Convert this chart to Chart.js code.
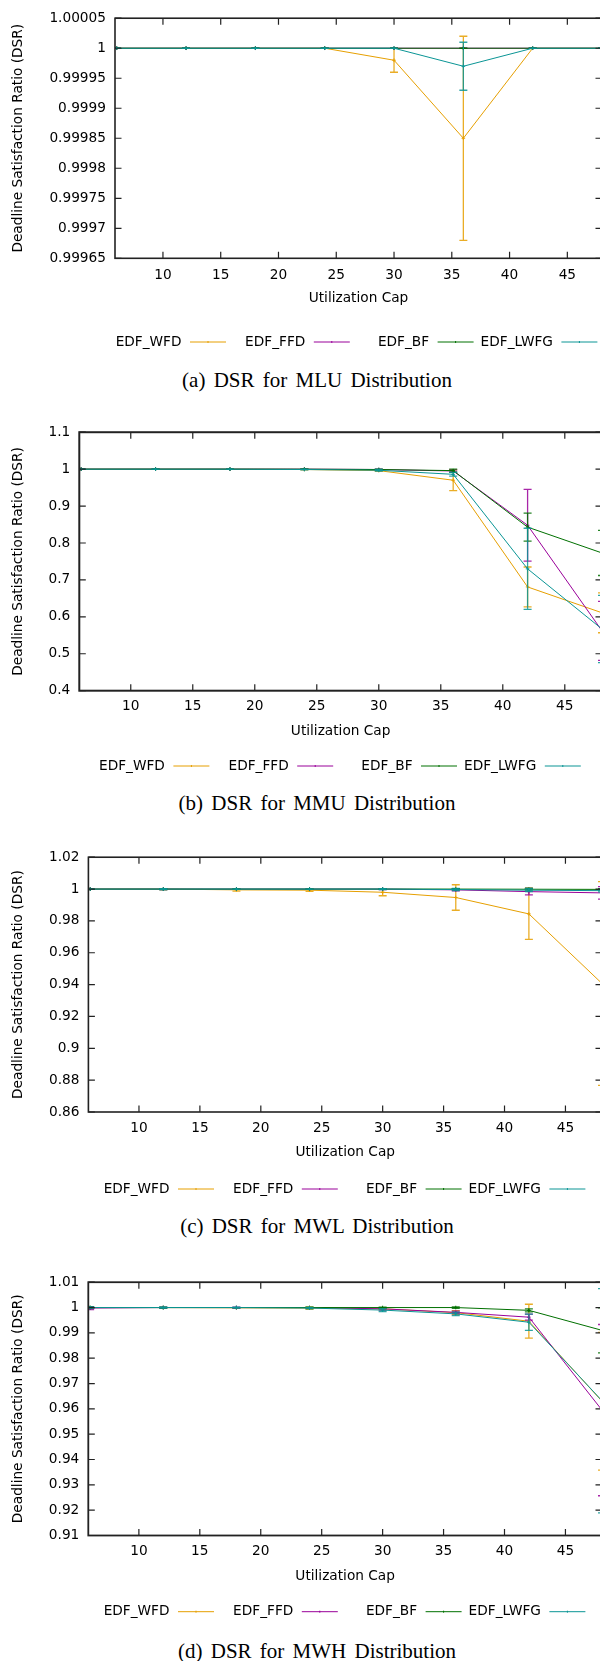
<!DOCTYPE html>
<html>
<head>
<meta charset="utf-8">
<title>DSR plots</title>
<script src="https://cdn.jsdelivr.net/npm/chart.js@4.4.1/dist/chart.umd.min.js"></script>
<style>
html, body { margin: 0; padding: 0; width: 600px; height: 1661px; overflow: hidden; background: #fff; }
.panel { position: absolute; left: 0; }
.caption {
    position: absolute; left: 117px; width: 400px; height: 24px;
    text-align: center; font-family: "Liberation Serif", serif; font-size: 21px;
    line-height: 24px; word-spacing: 3px; color: #000; white-space: nowrap;
}
</style>
</head>
<body>
<canvas id="chartA" class="panel"></canvas>
<canvas id="chartB" class="panel"></canvas>
<canvas id="chartC" class="panel"></canvas>
<canvas id="chartD" class="panel"></canvas>
<div class="caption" id="capA">(a) DSR for MLU Distribution</div>
<div class="caption" id="capB">(b) DSR for MMU Distribution</div>
<div class="caption" id="capC">(c) DSR for MWL Distribution</div>
<div class="caption" id="capD">(d) DSR for MWH Distribution</div>
<script>
// x values (utilization cap) shared by all plots
let caps = [6, 12, 18, 24, 30, 36, 42, 48];
let xTicks = [10, 15, 20, 25, 30, 35, 40, 45];
let seriesNames = ["EDF_WFD", "EDF_FFD", "EDF_BF", "EDF_LWFG"];
let seriesColors = ["#e69f00", "#990099", "#007000", "#0a9595"];

// (a) MLU distribution
let yTicksA = [0.99965, 0.9997, 0.99975, 0.9998, 0.99985, 0.9999, 0.99995, 1, 1.00005];
let wfdA = [1, 1, 1, 1, 0.99998, 0.99985, 1, 1];
let wfdErrA = [0, 0, 0, 0, 0.00002, 0.00017, 0, 0];
let ffdA = [1, 1, 1, 1, 1, 1, 1, 1];
let ffdErrA = [0, 0, 0, 0, 0, 0, 0, 0];
let bfA = [1, 1, 1, 1, 1, 1, 1, 1];
let bfErrA = [0, 0, 0, 0, 0, 0, 0, 0];
let lwfgA = [1, 1, 1, 1, 1, 0.99997, 1, 1];
let lwfgErrA = [0, 0, 0, 0, 0, 0.00004, 0, 0];

// (b) MMU distribution
let yTicksB = [0.4, 0.5, 0.6, 0.7, 0.8, 0.9, 1, 1.1];
let wfdB = [1, 1, 1, 0.999, 0.996, 0.970, 0.681, 0.611];
let wfdErrB = [0, 0, 0, 0.001, 0.002, 0.028, 0.054, 0.054];
let ffdB = [1, 1, 1, 1, 0.999, 0.995, 0.848, 0.562];
let ffdErrB = [0, 0, 0, 0, 0.001, 0.003, 0.097, 0.080];
let bfB = [1, 1, 1, 1, 0.999, 0.996, 0.843, 0.773];
let bfErrB = [0, 0, 0, 0, 0.001, 0.004, 0.038, 0.061];
let lwfgB = [1, 1, 1, 0.999, 0.997, 0.986, 0.730, 0.567];
let lwfgErrB = [0, 0, 0, 0.001, 0.002, 0.005, 0.110, 0.091];

// (c) MWL distribution
let yTicksC = [0.86, 0.88, 0.9, 0.92, 0.94, 0.96, 0.98, 1, 1.02];
let wfdC = [1, 1, 0.9995, 0.9993, 0.998, 0.9947, 0.9844, 0.9407];
let wfdErrC = [0, 0.0003, 0.0008, 0.0008, 0.0022, 0.008, 0.016, 0.064];
let ffdC = [1, 1, 1, 1, 1, 0.9995, 0.9984, 0.9976];
let ffdErrC = [0, 0.0003, 0, 0, 0.0003, 0.0006, 0.002, 0.0039];
let bfC = [1, 1, 1, 1, 1, 1, 0.9999, 0.9998];
let bfErrC = [0, 0.0003, 0, 0, 0.0002, 0.0003, 0.0006, 0.0005];
let lwfgC = [1, 1, 1, 1, 1, 0.9997, 0.9993, 0.999];
let lwfgErrC = [0, 0.0003, 0, 0, 0.0003, 0.0007, 0.0009, 0.0008];

// (d) MWH distribution
let yTicksD = [0.91, 0.92, 0.93, 0.94, 0.95, 0.96, 0.97, 0.98, 0.99, 1, 1.01];
let wfdD = [1, 1, 0.9999, 0.9998, 0.9995, 0.998, 0.9946, 0.963];
let wfdErrD = [0.0002, 0, 0.0001, 0.0005, 0.0003, 0.0008, 0.0067, 0.0272];
let ffdD = [0.9998, 1, 1, 1, 0.9995, 0.9981, 0.9962, 0.9595];
let ffdErrD = [0.0006, 0.0002, 0.0002, 0, 0.0005, 0.0005, 0.0012, 0.0338];
let bfD = [1, 1, 1, 1, 1, 1, 0.9989, 0.991];
let bfErrD = [0.0003, 0.0002, 0, 0.0002, 0.0002, 0.0003, 0.0006, 0.0089];
let lwfgD = [1, 1, 1, 0.9998, 0.999, 0.9975, 0.9942, 0.9632];
let lwfgErrD = [0.0003, 0.0002, 0.0002, 0.0003, 0.0006, 0.0007, 0.0032, 0.0443];

let FONT = "DejaVu Sans";
let FONT_SIZE = 13.7;
let CANVAS_W = 620;   // wider than the page: the right edge of the plots is cut off
let PLOT_RIGHT = 602;

/* error bars drawn right after each line, using the chart's y scale */
let errorBars = {
    id: "errorBars",
    afterDatasetDraw(chart, args) {
        let ds = chart.data.datasets[args.index];
        let meta = args.meta;
        let yScale = chart.scales.y;
        let area = chart.chartArea;
        let ctx = chart.ctx;
        ctx.save();
        ctx.beginPath();
        ctx.rect(area.left, area.top, area.right - area.left, area.bottom - area.top);
        ctx.clip();
        ctx.strokeStyle = ds.borderColor;
        ctx.globalAlpha = 0.85;
        ctx.lineWidth = 1.3;
        for (let i = 0; i < ds.data.length; i++) {
            let e = ds.errors[i];
            let x = meta.data[i].x;
            let yHi = yScale.getPixelForValue(ds.data[i].y + e);
            let yLo = yScale.getPixelForValue(ds.data[i].y - e);
            ctx.beginPath();
            ctx.moveTo(x, yHi);
            ctx.lineTo(x, yLo);
            ctx.moveTo(x - 4, yHi);
            ctx.lineTo(x + 4, yHi);
            ctx.moveTo(x - 4, yLo);
            ctx.lineTo(x + 4, yLo);
            ctx.stroke();
        }
        ctx.restore();
    }
};

/* gnuplot style box with inward ticks on all four sides */
let gnuFrame = {
    id: "gnuFrame",
    afterDatasetsDraw(chart, args, opts) {
        let ctx = chart.ctx;
        let a = chart.chartArea;
        let xs = chart.scales.x;
        let ys = chart.scales.y;
        let tl = 6.5;
        ctx.save();
        ctx.strokeStyle = "#222";
        ctx.lineWidth = 1.2;
        ctx.beginPath();
        xs.ticks.forEach(t => {
            let px = xs.getPixelForValue(t.value);
            ctx.moveTo(px, a.bottom);
            ctx.lineTo(px, a.bottom - tl);
            ctx.moveTo(px, a.top);
            ctx.lineTo(px, a.top + tl);
        });
        ys.ticks.forEach(t => {
            let py = ys.getPixelForValue(t.value);
            ctx.moveTo(a.left, py);
            ctx.lineTo(a.left + tl, py);
            ctx.moveTo(a.right, py);
            ctx.lineTo(a.right - tl, py);
        });
        ctx.stroke();
        ctx.lineWidth = opts.border;
        ctx.strokeRect(a.left, a.top, a.right - a.left, a.bottom - a.top);
        ctx.restore();
    }
};

/* legend below the plot: label first, then the line sample */
let gnuLegend = {
    id: "gnuLegend",
    afterDraw(chart, args, opts) {
        let ctx = chart.ctx;
        ctx.save();
        ctx.font = FONT_SIZE + "px '" + FONT + "'";
        ctx.textAlign = "right";
        ctx.textBaseline = "middle";
        chart.data.datasets.forEach((ds, i) => {
            let x = opts.x0 + i * 123.8;
            ctx.fillStyle = "#000";
            ctx.fillText(ds.label, x - 8.5, opts.y);
            ctx.strokeStyle = ds.borderColor;
            ctx.lineWidth = 1;
            ctx.beginPath();
            ctx.moveTo(x, opts.y);
            ctx.lineTo(x + 36, opts.y);
            ctx.moveTo(x + 18, opts.y - 1);
            ctx.lineTo(x + 18, opts.y + 1);
            ctx.stroke();
        });
        ctx.restore();
    }
};

function makePanel(canvasId, captionId, p) {
    let canvasTop = Math.round(p.plotTop - 14);
    let canvasHeight = Math.round(p.legendY + 14) - canvasTop;
    let canvas = document.getElementById(canvasId);
    canvas.width = CANVAS_W;
    canvas.height = canvasHeight;
    canvas.style.top = canvasTop + "px";
    canvas.style.width = CANVAS_W + "px";
    canvas.style.height = canvasHeight + "px";

    let padTop = p.plotTop - canvasTop;
    let padBottom = canvasHeight - (p.plotBottom - canvasTop) - 60;

    let datasets = [];
    for (let s = 0; s < 4; s++) {
        datasets.push({
            label: seriesNames[s],
            data: caps.map((c, i) => ({x: c, y: p.values[s][i]})),
            errors: p.errors[s],
            borderColor: seriesColors[s],
            backgroundColor: seriesColors[s],
            borderWidth: 1,
            pointStyle: "cross",
            pointRadius: 1.8,
            pointBorderWidth: 1,
            tension: 0,
            order: 4 - s
        });
    }

    let tickFont = {family: FONT, size: FONT_SIZE};

    new Chart(canvas, {
        type: "line",
        data: {datasets: datasets},
        options: {
            responsive: false,
            animation: false,
            devicePixelRatio: 1,
            layout: {padding: {left: 0, right: CANVAS_W - PLOT_RIGHT, top: padTop, bottom: padBottom}},
            plugins: {
                legend: {display: false},
                tooltip: {enabled: false},
                gnuLegend: {x0: p.legendX0, y: p.legendY - canvasTop},
                gnuFrame: {border: p.border}
            },
            scales: {
                x: {
                    type: "linear",
                    min: 5.85,
                    max: 48,
                    grid: {display: false, drawTicks: false},
                    border: {display: false},
                    afterBuildTicks: function(scale) { scale.ticks = xTicks.map(v => ({value: v})); },
                    afterFit: function(scale) { scale.height = 60; },
                    ticks: {
                        padding: p.tickPad, color: "#000", font: tickFont,
                        autoSkip: false, maxRotation: 0,
                        callback: v => String(v)
                    },
                    title: {
                        display: true, text: "Utilization Cap", color: "#000",
                        font: tickFont, padding: {top: 0, bottom: 11.3}
                    }
                },
                y: {
                    type: "linear",
                    min: p.yMin,
                    max: p.yMax,
                    grid: {display: false, drawTicks: false},
                    border: {display: false},
                    afterBuildTicks: function(scale) { scale.ticks = p.yTicks.map(v => ({value: v})); },
                    afterFit: function(scale) { scale.width = p.left; },
                    ticks: {
                        padding: 9, color: "#000", font: tickFont, autoSkip: false,
                        callback: v => String(v)
                    },
                    title: {
                        display: true, text: "Deadline Satisfaction Ratio (DSR)", color: "#000",
                        font: tickFont, padding: {top: 10, bottom: 0}
                    }
                }
            }
        },
        plugins: [errorBars, gnuFrame, gnuLegend]
    });

    document.getElementById(captionId).style.top = (p.captionY - 13) + "px";
}

makePanel("chartA", "capA", {
    plotTop: 14.7, plotBottom: 258.3, left: 115, legendY: 342, legendX0: 190, captionY: 381,
    tickPad: 9, border: 1.6, yMin: 0.99965, yMax: 1.00005, yTicks: yTicksA,
    values: [wfdA, ffdA, bfA, lwfgA], errors: [wfdErrA, ffdErrA, bfErrA, lwfgErrA]
});
makePanel("chartB", "capB", {
    plotTop: 429, plotBottom: 690.7, left: 79.3, legendY: 766, legendX0: 173.4, captionY: 804.3,
    tickPad: 8, border: 2, yMin: 0.4, yMax: 1.1, yTicks: yTicksB,
    values: [wfdB, ffdB, bfB, lwfgB], errors: [wfdErrB, ffdErrB, bfErrB, lwfgErrB]
});
makePanel("chartC", "capC", {
    plotTop: 854.3, plotBottom: 1112, left: 88.4, legendY: 1189, legendX0: 178, captionY: 1227.3,
    tickPad: 8, border: 1.6, yMin: 0.86, yMax: 1.02, yTicks: yTicksC,
    values: [wfdC, ffdC, bfC, lwfgC], errors: [wfdErrC, ffdErrC, bfErrC, lwfgErrC]
});
makePanel("chartD", "capD", {
    plotTop: 1278.5, plotBottom: 1535.5, left: 88.3, legendY: 1611.7, legendX0: 178, captionY: 1652.3,
    tickPad: 7.5, border: 1.8, yMin: 0.91, yMax: 1.01, yTicks: yTicksD,
    values: [wfdD, ffdD, bfD, lwfgD], errors: [wfdErrD, ffdErrD, bfErrD, lwfgErrD]
});
</script>
</body>
</html>
